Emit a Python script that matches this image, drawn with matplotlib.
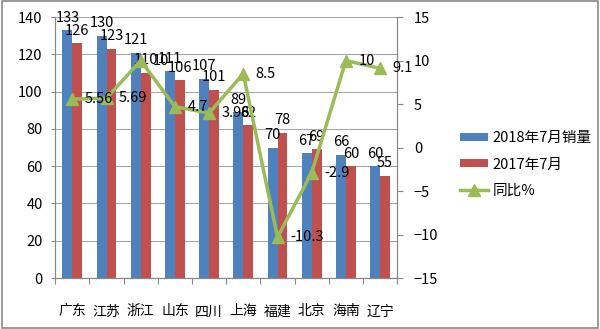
import matplotlib

matplotlib.use("Agg")

import matplotlib.pyplot as plt
import numpy as np
from matplotlib.patches import Rectangle

plt.rcParams["font.family"] = ["Noto Sans CJK SC", "DejaVu Sans"]

BLUE = "#4f81bd"
RED = "#c0504d"
GREEN = "#9bbb59"
GRID = "#a6a6a6"

provinces = ["广东", "江苏", "浙江", "山东", "四川", "上海", "福建", "北京", "海南", "辽宁"]
sales_2018 = [133, 130, 121, 111, 107, 89, 70, 67, 66, 60]
sales_2017 = [126, 123, 110, 106, 101, 82, 78, 69, 60, 55]
yoy_pct = [5.56, 5.69, 10, 4.7, 3.96, 8.5, -10.3, -2.9, 10, 9.1]

fig = plt.figure(figsize=(6.0, 3.29), dpi=100)
fig.patch.set_facecolor("white")
ax = fig.add_axes((0.092, 0.155, 0.570, 0.793))
ax2 = ax.twinx()

x = np.arange(len(provinces))
width = 0.29
bars_a = ax.bar(x - width / 2, sales_2018, width, color=BLUE, label="2018年7月销量", zorder=2)
bars_b = ax.bar(x + width / 2, sales_2017, width, color=RED, label="2017年7月", zorder=2)
ax.bar_label(bars_a, padding=4, fontsize=10.5)
ax.bar_label(bars_b, padding=4, fontsize=10.5)

ax.set_xlim(-0.5, len(provinces) - 0.5)
ax.set_ylim(0, 140)
ax.set_yticks(range(0, 141, 20))
ax.grid(axis="y", color=GRID, linewidth=0.8, zorder=0)
ax.set_axisbelow(True)

# category boundaries get the tick marks, names sit in the middle
ax.set_xticks(np.arange(-0.5, len(provinces), 1.0))
ax.set_xticklabels([])
ax.set_xticks(x, minor=True)
ax.set_xticklabels(provinces, minor=True, fontsize=10)
ax.tick_params(axis="x", which="major", length=4, color="#888888")
ax.tick_params(axis="x", which="minor", length=0, pad=19)
ax.tick_params(axis="y", length=3, color="#888888", labelsize=10.5, pad=6)

(line,) = ax2.plot(x, yoy_pct, color=GREEN, linewidth=2.5, marker="^",
                   markersize=8, label="同比%", zorder=3)
for xi, value in zip(x, yoy_pct):
    ax2.annotate(f"{value:g}", xy=(xi, value), xytext=(9, 0), textcoords="offset points",
                 ha="left", va="center", fontsize=10.5)
ax2.set_ylim(-15, 15)
ax2.set_yticks(range(-15, 16, 5))
ax2.tick_params(axis="y", length=4, color="#888888", labelsize=10.5, pad=8)

for axis in (ax, ax2):
    axis.spines["top"].set_visible(False)
    for side in ("left", "right", "bottom"):
        axis.spines[side].set_color("#888888")
        axis.spines[side].set_linewidth(0.8)

fig.legend(handles=[bars_a, bars_b, line], loc="center left", bbox_to_anchor=(0.745, 0.5),
           frameon=False, fontsize=10.5, handlelength=1.9, handleheight=0.5,
           labelspacing=0.85, handletextpad=0.3, numpoints=1)

fig.patches.append(Rectangle((0.003, 0.004), 0.994, 0.992, transform=fig.transFigure,
                             fill=False, edgecolor="#888888", linewidth=1.2))

fig.savefig("out.png", dpi=100, facecolor=fig.get_facecolor())
